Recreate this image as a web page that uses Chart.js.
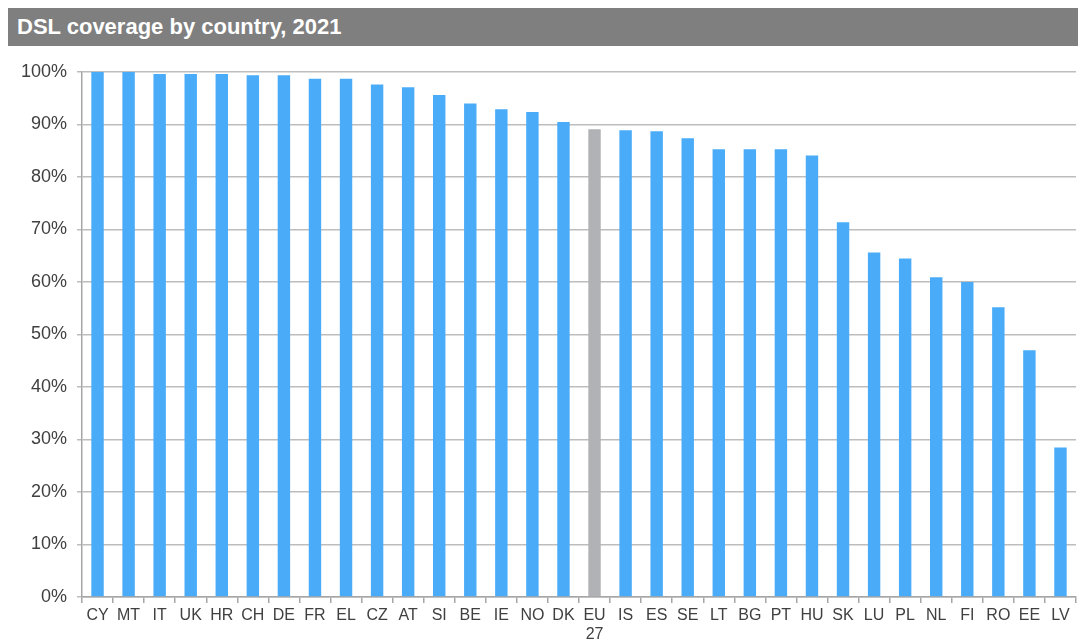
<!DOCTYPE html>
<html>
<head>
<meta charset="utf-8">
<script src="https://cdn.jsdelivr.net/npm/chart.js"></script>
<style>
  html, body { margin:0; padding:0; background:#fff; }
  #wrap { position:relative; width:1078px; height:640px; }
  #title { position:absolute; left:8px; top:8px; width:1070px; height:38px; background:#7f7f7f;
           color:#fff; font:bold 22px "Liberation Sans", Arial, sans-serif; line-height:37px;
           padding-left:9px; box-sizing:border-box; }
  canvas { position:absolute; left:0; top:0; }
</style>
</head>
<body>
<div id="wrap">
  <canvas id="c" width="1078" height="640"></canvas>
  <div id="title">DSL coverage by country, 2021</div>
</div>
<script>
  // DSL coverage, % of households
  const countries = ['CY','MT','IT','UK','HR','CH','DE','FR','EL','CZ','AT','SI','BE','IE','NO','DK',['EU','27'],
                     'IS','ES','SE','LT','BG','PT','HU','SK','LU','PL','NL','FI','RO','EE','LV'];
  const coverage = [100, 100, 99.6, 99.6, 99.6, 99.4, 99.4, 98.7, 98.7, 97.6, 97.1, 95.6, 94.0, 92.9, 92.4, 90.5, 89.1,
                    88.9, 88.7, 87.4, 85.3, 85.3, 85.3, 84.1, 71.4, 65.6, 64.5, 60.9, 60.0, 55.2, 47.0, 28.5];
  const yTicks = [0, 10, 20, 30, 40, 50, 60, 70, 80, 90, 100];

  const blue = '#4aacf8';
  const grey = '#b1b2b5';
  const colors = countries.map(c => Array.isArray(c) ? grey : blue);

  new Chart(document.getElementById('c').getContext('2d'), {
    type: 'bar',
    data: { labels: countries, datasets: [{ data: coverage, backgroundColor: colors,
            categoryPercentage: 1, barPercentage: 0.4 }] },
    options: {
      responsive: false, animation: false,
      layout: { padding: { top: 72, right: 2, left: 0, bottom: 0 } },
      plugins: { legend: { display: false }, tooltip: { enabled: false } },
      scales: {
        x: {
          offset: true,
          grid: { offset: true, drawOnChartArea: false, color: '#a6a6a6', tickLength: 6, lineWidth: 1.5 },
          border: { color: '#a6a6a6', width: 1.5 },
          ticks: { color: '#404040', font: { family: '"Liberation Sans", Arial', size: 16 }, maxRotation: 0,
                   autoSkip: false, padding: 3 },
          afterFit: s => { s.height = 43; }
        },
        y: {
          min: 0, max: 100,
          afterBuildTicks: s => { s.ticks = yTicks.map(v => ({ value: v })); },
          grid: { color: '#bdbdbd', lineWidth: 1.5, tickLength: 5 },
          border: { color: '#a6a6a6', width: 1.5 },
          ticks: { color: '#404040', font: { family: '"Liberation Sans", Arial', size: 18 }, padding: 10,
                   callback: v => v + '%' },
          afterFit: s => { s.width = 82; }
        }
      }
    }
  });
</script>
</body>
</html>
